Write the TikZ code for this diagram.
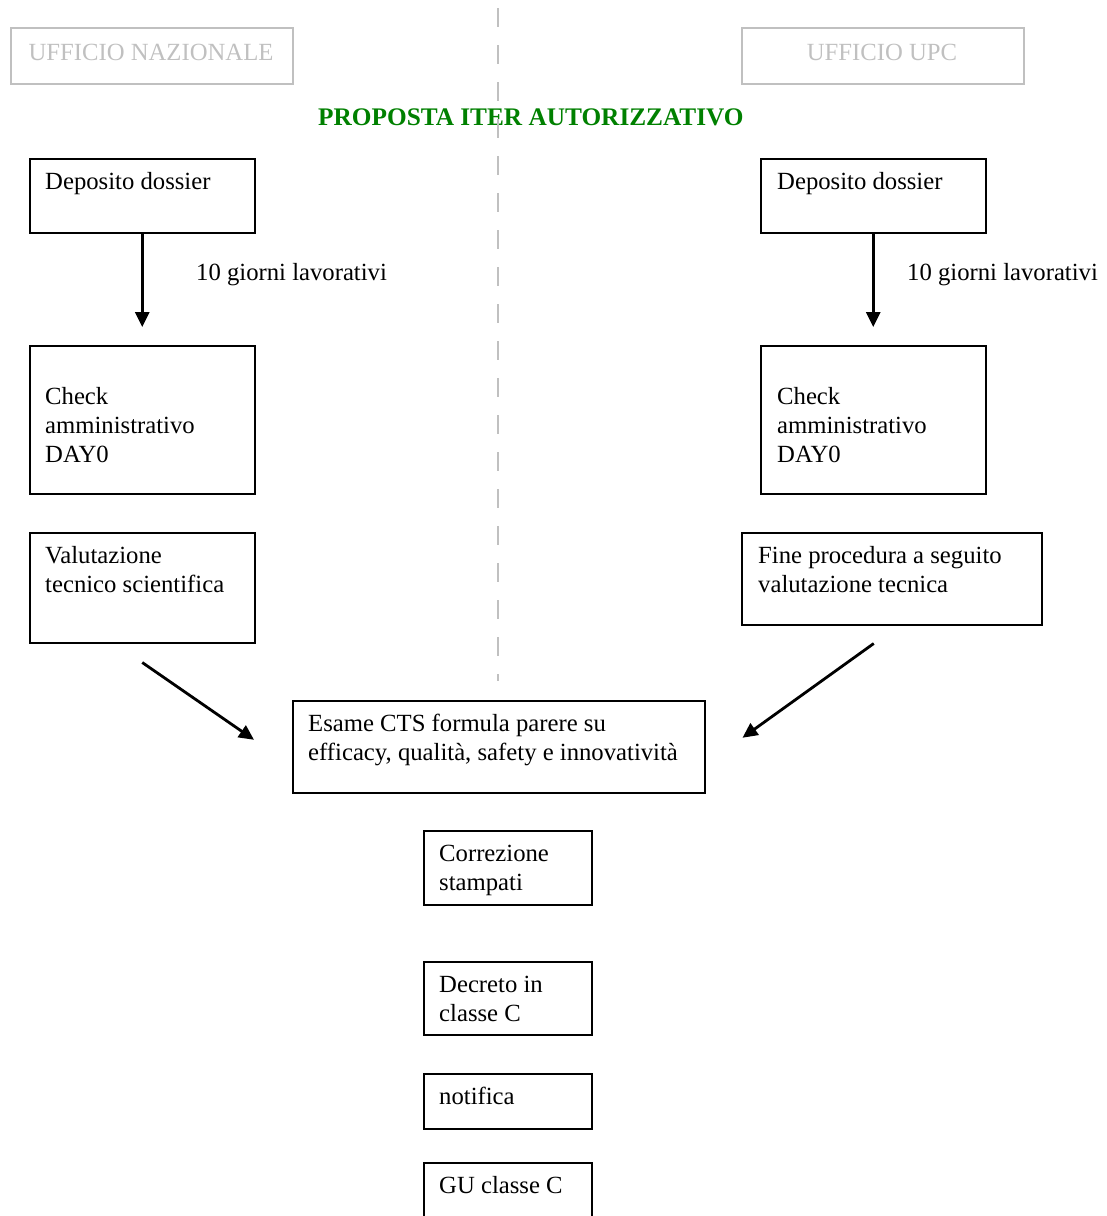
\documentclass[tikz,border=0pt]{standalone}
\usepackage{fontspec}
\setmainfont{Liberation Serif}
\usetikzlibrary{arrows.meta,calc}
\definecolor{paleline}{RGB}{192,192,192}
\definecolor{titlegreen}{RGB}{0,128,0}
% left-aligned block of lines whose reference point is the first baseline
\newcommand{\linesblock}[1]{\begin{tabular}[t]{@{}l@{}}#1\end{tabular}}

\begin{document}
\begin{tikzpicture}[x=1pt,y=-1pt,
  txt/.style={font=\fontsize{24.7}{29}\selectfont, inner sep=0pt, anchor=base west},
  stepbox/.style={draw=black, line width=1.5pt, anchor=north west, inner sep=0pt},
  officebox/.style={draw=paleline, line width=1.6pt, anchor=north west, inner sep=0pt,
                    minimum width=282pt, minimum height=56pt},
  officetxt/.style={font=\fontsize{24.7}{29}\selectfont, inner sep=0pt, anchor=base, text=paleline},
  flow/.style={line width=2.8pt, -{Triangle[length=15pt,width=14pt]}},
]
\useasboundingbox (0,0) rectangle (1107,1216);
\clip (0,0) rectangle (1107,1216);

% office headers
\node[officebox] (offnaz) at (10,27) {};
\node[officetxt] (offnazt) at (151,60) {UFFICIO NAZIONALE};
\node[officebox] (offupc) at (741,27) {};
\node[officetxt] (offupct) at (882,60) {UFFICIO UPC};

% title
\node[txt, font=\fontsize{25.3}{29}\selectfont\bfseries, text=titlegreen] (title) at (318,125)
  {PROPOSTA ITER AUTORIZZATIVO};

% column divider, drawn over the title
\coordinate (divtop) at (498,8);
\coordinate (divbot) at (498,681);
\draw[paleline, line width=1.4pt, dash pattern=on 19pt off 18pt] (divtop) -- (divbot);

% left column
\node[stepbox, minimum width=225pt, minimum height=74pt] (dep1) at (29,158) {};
\node[txt] (dep1t) at (45,189) {Deposito dossier};
\node[stepbox, minimum width=225pt, minimum height=148pt] (chk1) at (29,345) {};
\node[txt] (chk1t) at (45,404) {\linesblock{Check\\amministrativo\\DAY0}};
\node[stepbox, minimum width=225pt, minimum height=110pt] (val1) at (29,532) {};
\node[txt] (val1t) at (45,563) {\linesblock{Valutazione\\tecnico scientifica}};
\node[txt] (gg1) at (196,280) {10 giorni lavorativi};

% right column
\node[stepbox, minimum width=225pt, minimum height=74pt] (dep2) at (760,158) {};
\node[txt] (dep2t) at (777,189) {Deposito dossier};
\node[stepbox, minimum width=225pt, minimum height=148pt] (chk2) at (760,345) {};
\node[txt] (chk2t) at (777,404) {\linesblock{Check\\amministrativo\\DAY0}};
\node[stepbox, minimum width=300pt, minimum height=92pt] (fine) at (741,532) {};
\node[txt] (finet) at (758,563) {\linesblock{Fine procedura a seguito\\valutazione tecnica}};
\node[txt] (gg2) at (907,280) {10 giorni lavorativi};

% common final steps
\node[stepbox, minimum width=412pt, minimum height=92pt] (esame) at (292,700) {};
\node[txt] (esamet) at (308,731) {\linesblock{Esame CTS formula parere su\\efficacy, qualità, safety e innovatività}};
\node[stepbox, minimum width=168pt, minimum height=74pt] (corr) at (423,830) {};
\node[txt] (corrt) at (439,861) {\linesblock{Correzione\\stampati}};
\node[stepbox, minimum width=168pt, minimum height=73pt] (decr) at (423,961) {};
\node[txt] (decrt) at (439,992) {\linesblock{Decreto in\\classe C}};
\node[stepbox, minimum width=168pt, minimum height=55pt] (notif) at (423,1073) {};
\node[txt] (notift) at (439,1104) {notifica};
\node[stepbox, minimum width=168pt, minimum height=74pt] (gu) at (423,1162) {};
\node[txt] (gut) at (439,1193) {GU classe C};

% connectors
\draw[flow] (dep1.south) -- ($(chk1.north)+(0,-18)$);
\draw[flow] (dep2.south) -- ($(chk2.north)+(0,-18)$);
\draw[flow] ($(val1.south)+(0,19)$) -- ($(esame.west)+(-38,-7)$);
\draw[flow] ($(fine.south)+(-18,18)$) -- ($(esame.east)+(37,-9)$);
\end{tikzpicture}
\end{document}
